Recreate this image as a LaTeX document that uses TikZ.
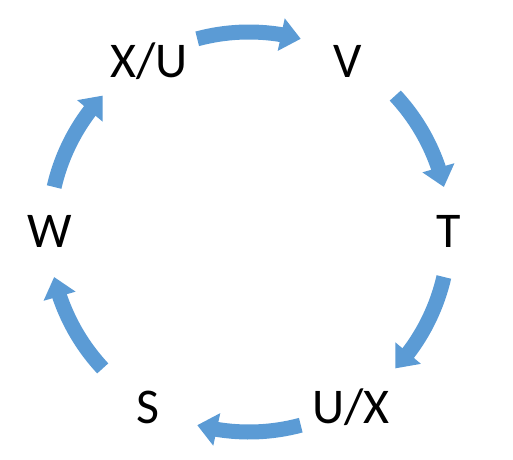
\documentclass[tikz,border=0pt]{standalone}
\usepackage{fontspec}
\setmainfont{Carlito}
\usetikzlibrary{arrows.meta,bending}
\definecolor{flowblue}{HTML}{5B9BD5}
\tikzset{
  flow/.style={draw=flowblue, line width=15pt, line cap=butt,
    -{Triangle[width=32pt,length=20pt,flex]}},
  lbl/.style={anchor=base, inner sep=0pt, font=\fontsize{50}{50}\selectfont}
}
\begin{document}
\begin{tikzpicture}[x=1pt,y=1pt]
\path[use as bounding box] (0,0) rectangle (513,459);
\coordinate (c) at (249,227);
% labels (pixel baseline y converted: 459 - y)
\node[lbl] (xu) at (149,382) {X/U};
\node[lbl] (v)  at (348,382) {V};
\node[lbl] (t)  at (449,212) {T};
\node[lbl] (ux) at (351,36)  {U/X};
\node[lbl] (s)  at (148,36)  {S};
\node[lbl] (w)  at (50,212)  {W};
% arrow start points on the circle
\coordinate (a1) at ([shift={(105:200pt)}]c);
\coordinate (a2) at ([shift={(43:200pt)}]c);
\coordinate (a3) at ([shift={(-13:200pt)}]c);
\coordinate (a4) at ([shift={(-75:200pt)}]c);
\coordinate (a5) at ([shift={(-137:200pt)}]c);
\coordinate (a6) at ([shift={(167:200pt)}]c);
\draw[flow] (a1) arc[start angle=105, end angle=75, radius=200pt];
\draw[flow] (a2) arc[start angle=43, end angle=13, radius=200pt];
\draw[flow] (a3) arc[start angle=-13, end angle=-43, radius=200pt];
\draw[flow] (a4) arc[start angle=-75, end angle=-105, radius=200pt];
\draw[flow] (a5) arc[start angle=-137, end angle=-167, radius=200pt];
\draw[flow] (a6) arc[start angle=167, end angle=137, radius=200pt];
\end{tikzpicture}
\end{document}
